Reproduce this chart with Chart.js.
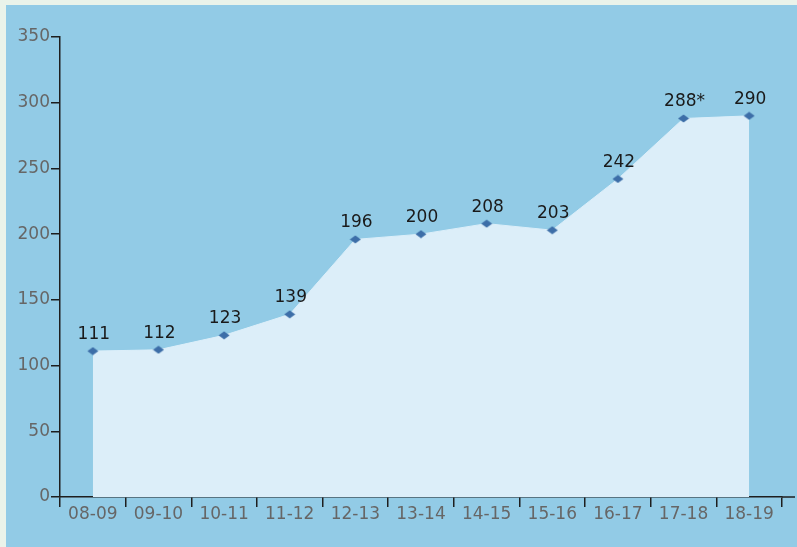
<!DOCTYPE html>
<html>
<head>
<meta charset="utf-8">
<script src="https://cdn.jsdelivr.net/npm/chart.js@4"></script>
<style>
  html, body { margin: 0; padding: 0; background: #eaf3ea; width: 797px; height: 547px; overflow: hidden; }
  #wrap { position: absolute; left: 6px; top: 5px; width: 791px; height: 542px; background: #92cbe6; }
  canvas { display: block; }
</style>
</head>
<body>
<div id="wrap"><canvas id="c" width="791" height="542"></canvas></div>
<script>
const categories = ["08-09","09-10","10-11","11-12","12-13","13-14","14-15","15-16","16-17","17-18","18-19"];
const values = [111,112,123,139,196,200,208,203,242,288,290];
const valueLabels = ["111","112","123","139","196","200","208","203","242","288*","290"];
const yTicks = [0,50,100,150,200,250,300,350];

const FONT = '"DejaVu Sans", "Open Sans", sans-serif';

// flattened diamond marker
const marker = document.createElement('canvas');
marker.width = 12; marker.height = 9;
(function(){
  const m = marker.getContext('2d');
  m.fillStyle = '#3d6ea8';
  m.beginPath();
  m.moveTo(0.5,4.5); m.lineTo(6,0.5); m.lineTo(11.5,4.5); m.lineTo(6,8.5); m.closePath();
  m.fill();
})();

const labelPlugin = {
  id: 'valueLabels',
  afterDatasetsDraw(chart) {
    const ctx = chart.ctx;
    const meta = chart.getDatasetMeta(0);
    ctx.save();
    ctx.fillStyle = '#1a1a1a';
    ctx.font = '17px ' + FONT;
    ctx.textAlign = 'center';
    ctx.textBaseline = 'alphabetic';
    meta.data.forEach((pt, i) => {
      ctx.fillText(valueLabels[i], pt.x + 1, pt.y - 12);
    });
    ctx.restore();
  },
  afterDraw(chart) {
    const ctx = chart.ctx;
    const a = chart.chartArea;
    ctx.save();
    ctx.strokeStyle = '#1e1e1e';
    ctx.lineWidth = 1.5;
    ctx.beginPath();
    ctx.moveTo(a.right, a.bottom);
    ctx.lineTo(789, a.bottom);
    ctx.stroke();
    ctx.restore();
  }
};

new Chart(document.getElementById('c'), {
  type: 'line',
  data: {
    labels: categories,
    datasets: [{
      data: values,
      fill: 'origin',
      backgroundColor: '#dceef9',
      borderColor: '#dceef9',
      borderWidth: 1,
      tension: 0,
      pointStyle: marker,
      pointRadius: 6,
      pointHoverRadius: 6
    }]
  },
  options: {
    responsive: false,
    animation: false,
    events: [],
    layout: { padding: { top: 32, right: 15, left: 0, bottom: 0 } },
    plugins: { legend: { display: false }, tooltip: { enabled: false } },
    scales: {
      x: {
        type: 'category',
        offset: true,
        afterFit(s) { s.height = 50; },
        grid: { offset: true, drawOnChartArea: false, tickLength: 10, color: '#1e1e1e', lineWidth: 1.5 },
        border: { display: true, color: '#1e1e1e', width: 1.5 },
        ticks: { color: '#666666', font: { size: 17, family: FONT }, padding: -3, maxRotation: 0 }
      },
      y: {
        min: 0, max: 350,
        afterFit(s) { s.width = 54; },
        afterBuildTicks(s) { s.ticks = yTicks.map(v => ({ value: v })); },
        grid: { drawOnChartArea: false, tickLength: 9, color: '#1e1e1e', lineWidth: 1.5 },
        border: { display: true, color: '#1e1e1e', width: 1.5 },
        ticks: { color: '#666666', font: { size: 17, family: FONT }, padding: 1 }
      }
    }
  },
  plugins: [labelPlugin]
});
</script>
</body>
</html>
